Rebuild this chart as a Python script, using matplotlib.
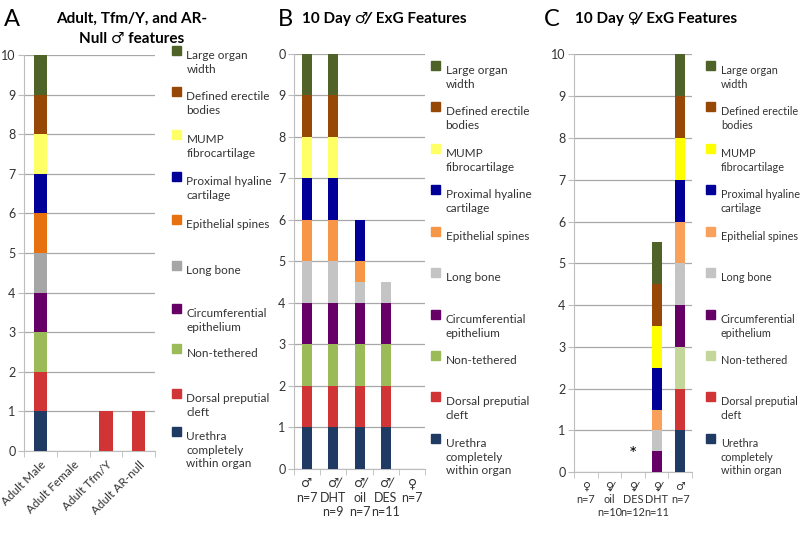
import numpy as np
import matplotlib
matplotlib.use('Agg')
import matplotlib.pyplot as plt
from matplotlib.patches import Rectangle

plt.rcParams['font.family'] = ['Lato', 'DejaVu Sans']

# features, bottom of the stack first
features = ['Urethra\ncompletely\nwithin organ', 'Dorsal preputial\ncleft', 'Non-tethered',
            'Circumferential\nepithelium', 'Long bone', 'Epithelial spines',
            'Proximal hyaline\ncartilage', 'MUMP\nfibrocartilage', 'Defined erectile\nbodies',
            'Large organ\nwidth']

colors_a = ['#1f3b63', '#d03434', '#9bbb59', '#660066', '#a6a6a6', '#e8710f',
            '#000099', '#ffff66', '#974806', '#4f6228']
colors_b = ['#1f3b63', '#d03434', '#9bbb59', '#660066', '#c4c4c4', '#f79646',
            '#000099', '#ffff66', '#974806', '#4f6228']
colors_c = ['#1f3b63', '#d03434', '#c4d79b', '#660066', '#c4c4c4', '#f9a05a',
            '#000099', '#ffff00', '#974806', '#4f6228']

groups_a = ['Adult Male', 'Adult Female', 'Adult Tfm/Y', 'Adult AR-null']
vals_a = np.array([
    [1, 1, 1, 1, 1, 1, 1, 1, 1, 1],
    [0, 0, 0, 0, 0, 0, 0, 0, 0, 0],
    [0, 1, 0, 0, 0, 0, 0, 0, 0, 0],
    [0, 1, 0, 0, 0, 0, 0, 0, 0, 0],
])

groups_b = ['\u2642\nn=7', '\u2642\u0338\nDHT\nn=9', '\u2642\u0338\noil\nn=7',
            '\u2642\u0338\nDES\nn=11', '\u2640\nn=7']
vals_b = np.array([
    [1, 1, 1, 1, 1, 1, 1, 1, 1, 1],
    [1, 1, 1, 1, 1, 1, 1, 1, 1, 1],
    [1, 1, 1, 1, 0.5, 0.5, 1, 0, 0, 0],
    [1, 1, 1, 1, 0.5, 0, 0, 0, 0, 0],
    [0, 0, 0, 0, 0, 0, 0, 0, 0, 0],
])

groups_c = ['\u2640\nn=7', '\u2640\u0338\noil\nn=10', '\u2640\u0338\nDES\nn=12',
            '\u2640\u0338\nDHT\nn=11', '\u2642\nn=7']
vals_c = np.array([
    [0, 0, 0, 0, 0, 0, 0, 0, 0, 0],
    [0, 0, 0, 0, 0, 0, 0, 0, 0, 0],
    [0, 0, 0, 0, 0, 0, 0, 0, 0, 0],
    [0, 0, 0, 0.5, 0.5, 0.5, 1, 1, 1, 1],
    [1, 1, 1, 1, 1, 1, 1, 1, 1, 1],
])

fig = plt.figure(figsize=(8, 5.44), dpi=100)


def stacked(ax, groups, vals, colors, width, rot=0, yticklabels=None, xfs=9):
    x = np.arange(len(groups))
    bottom = np.zeros(len(groups))
    for k in range(vals.shape[1]):
        ax.bar(x, vals[:, k], width, bottom=bottom, color=colors[k], zorder=3)
        bottom += vals[:, k]
    ax.set_xlim(-0.5, len(groups) - 0.5)
    ax.set_ylim(0, 10)
    ax.set_yticks(range(11))
    if yticklabels is not None:
        ax.set_yticklabels(yticklabels)
    ax.yaxis.grid(True, color='#a8a8a8', lw=0.9, zorder=0)
    for s in ['top', 'right']:
        ax.spines[s].set_visible(False)
    ax.spines['left'].set_color('#bdbdbd')
    ax.spines['bottom'].set_color('#bdbdbd')
    ax.tick_params(axis='y', length=4, color='#bdbdbd', labelsize=9, pad=2, labelcolor='#333333')
    ax.set_xticks(x)
    if rot:
        ax.set_xticklabels(groups, rotation=rot, ha='right', rotation_mode='anchor', fontsize=8.5)
    else:
        ax.set_xticklabels(groups, fontsize=xfs, linespacing=1.25)
    ax.tick_params(axis='x', which='major', length=0, pad=6, labelcolor='#333333')
    ax.set_xticks(np.arange(len(groups) + 1) - 0.5, minor=True)
    ax.tick_params(axis='x', which='minor', length=4, color='#bdbdbd')


def legend(x0, ys, colors, fs=8.5):
    for k in range(len(features)):
        y = ys[k]
        fig.add_artist(Rectangle((x0, y - 0.009), 0.011, 0.016, transform=fig.transFigure,
                                 color=colors[len(features) - 1 - k]))
        fig.text(x0 + 0.018, y, features[len(features) - 1 - k], fontsize=fs,
                 va='top', ha='left', color='#333333', linespacing=1.3,
                 transform=fig.transFigure)


axA = fig.add_axes([0.03, 0.171, 0.164, 0.728])
stacked(axA, groups_a, vals_a, colors_a, 0.4, rot=45)
axB = fig.add_axes([0.3675, 0.138, 0.164, 0.763])
stacked(axB, groups_b, vals_b, colors_b, 0.38,
        yticklabels=['0', '1', '2', '3', '4', '5', '6', '7', '8', '9', '0'])
axC = fig.add_axes([0.7175, 0.132, 0.1475, 0.768])
stacked(axC, groups_c, vals_c, colors_c, 0.42, xfs=7.8)
axC.text(2, 0.42, '*', ha='center', va='center', fontsize=14, zorder=4)

ys_a = [1 - p / 544 for p in [50, 91, 134, 176, 219, 265, 308, 348, 393, 431]]
ys_bc = [1 - p / 544 for p in [65, 106, 148, 189, 231, 272, 314, 355, 396, 438]]
legend(0.215, ys_a, colors_a)
legend(0.539, ys_bc, colors_b)
legend(0.883, ys_bc, colors_c, fs=7.8)

fig.text(0.005, 0.965, 'A', fontsize=17, va='center')
fig.text(0.347, 0.965, 'B', fontsize=17, va='center')
fig.text(0.68, 0.965, 'C', fontsize=17, va='center')
fig.text(0.165, 0.965, 'Adult, Tfm/Y, and AR-', fontsize=11, fontweight='bold', ha='center', va='center')
fig.text(0.165, 0.928, 'Null \u2642 features', fontsize=11, fontweight='bold', ha='center', va='center')
fig.text(0.48, 0.965, '10 Day \u2642\u0338  ExG Features', fontsize=11, fontweight='bold', ha='center', va='center')
fig.text(0.82, 0.965, '10 Day \u2640\u0338  ExG Features', fontsize=11, fontweight='bold', ha='center', va='center')

fig.savefig('out.png', dpi=100)
